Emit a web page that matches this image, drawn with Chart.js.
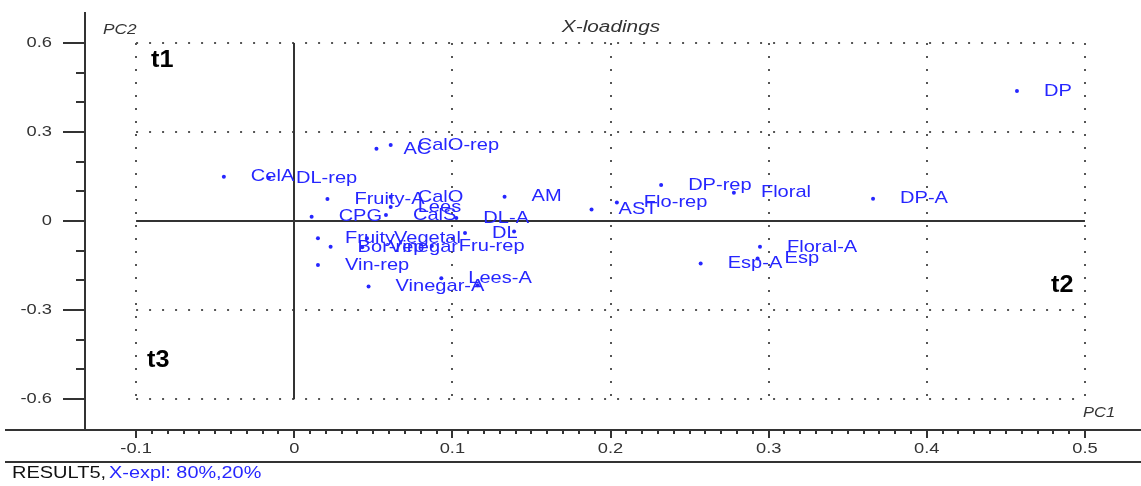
<!DOCTYPE html>
<html>
<head>
<meta charset="utf-8">
<script src="https://cdn.jsdelivr.net/npm/chart.js@4.4.1/dist/chart.umd.min.js"></script>
<style>
  html, body { margin: 0; padding: 0; background: #fff; overflow: hidden; }
  #wrap { width: 1141px; height: 486px; position: relative; }
</style>
</head>
<body>
<div id="wrap"><canvas id="loadings"></canvas></div>
<script>
// Variable names and their PC1 / PC2 loadings
const varNames = ['DP', 'DP-A', 'Floral', 'DP-rep', 'Flo-rep', 'AST', 'Floral-A', 'Esp', 'Esp-A',
  'AM', 'DL-A', 'DL', '', 'Fru-rep', 'Lees-A', '', 'Vinegar-A', 'Vin-rep', 'Bor-rep', 'Vinegar',
  'Vegetal', 'Fruity', 'CPG', 'CalS', 'Lees', 'CalO', 'Fruity-A', 'CelA', 'DL-rep', 'AC', 'CalO-rep'];
const pc1 = [0.457, 0.366, 0.278, 0.232, 0.204, 0.188, 0.2945, 0.293, 0.257,
  0.133, 0.1025, 0.108, 0.139, 0.087, 0.093, 0.116, 0.047, 0.015, 0.023, 0.043,
  0.046, 0.015, 0.011, 0.058, 0.061, 0.061, 0.021, -0.0445, -0.016, 0.052, 0.061];
const pc2 = [0.438, 0.075, 0.095, 0.121, 0.062, 0.039, -0.087, -0.126, -0.143,
  0.082, 0.010, -0.040, -0.035, -0.084, -0.193, -0.216, -0.221, -0.148, -0.087, -0.088,
  -0.058, -0.058, 0.0145, 0.020, 0.047, 0.081, 0.074, 0.149, 0.145, 0.243, 0.256];

// Axis ticks
const xTicks = [-0.1, 0, 0.1, 0.2, 0.3, 0.4, 0.5];
const yTicks = [-0.6, -0.3, 0, 0.3, 0.6];
const xGrid = [-0.1, 0.1, 0.2, 0.3, 0.4, 0.5];
const yGrid = [-0.6, -0.3, 0.3, 0.6];

const BLUE = '#2626ff';
const INK = '#333';
const SANS = '"Liberation Sans", Arial, sans-serif';

// the old Unscrambler-style font is noticeably wider than Arial
function wideText(ctx, str, x, y, font, color, align, stretch) {
  ctx.save();
  ctx.font = font;
  ctx.fillStyle = color;
  ctx.textBaseline = 'middle';
  ctx.textAlign = 'left';
  const w = ctx.measureText(str).width * stretch;
  let x0 = x;
  if (align === 'right') x0 = x - w;
  else if (align === 'center') x0 = x - w / 2;
  ctx.translate(x0, y);
  ctx.scale(stretch, 1);
  ctx.fillText(str, 0, 0);
  ctx.restore();
  return w;
}

function fmt(v) {
  return String(Math.round(v * 10) / 10);
}

const framePlugin = {
  id: 'loadingsFrame',
  beforeDatasetsDraw(chart) {
    const ctx = chart.ctx;
    const xs = chart.scales.x, ys = chart.scales.y;
    const yTop = ys.getPixelForValue(0.6), yBot = ys.getPixelForValue(-0.6);
    const xL = xs.getPixelForValue(-0.1), xR = xs.getPixelForValue(0.5);

    // dotted grid
    ctx.save();
    ctx.strokeStyle = '#555';
    ctx.lineWidth = 2;
    ctx.setLineDash([2, 11]);
    xGrid.forEach(v => {
      const px = Math.round(xs.getPixelForValue(v));
      ctx.beginPath(); ctx.moveTo(px, yTop); ctx.lineTo(px, yBot); ctx.stroke();
    });
    yGrid.forEach(v => {
      const py = Math.round(ys.getPixelForValue(v));
      ctx.beginPath(); ctx.moveTo(xL, py); ctx.lineTo(xR, py); ctx.stroke();
    });
    ctx.restore();

    // solid zero lines
    ctx.save();
    ctx.strokeStyle = '#333';
    ctx.lineWidth = 2;
    const x0 = Math.round(xs.getPixelForValue(0));
    const y0 = Math.round(ys.getPixelForValue(0));
    ctx.beginPath(); ctx.moveTo(x0, yTop); ctx.lineTo(x0, yBot); ctx.stroke();
    ctx.beginPath(); ctx.moveTo(xL, y0); ctx.lineTo(xR, y0); ctx.stroke();
    ctx.restore();
  },
  afterDatasetsDraw(chart) {
    const ctx = chart.ctx;
    const pts = chart.getDatasetMeta(0).data;
    pts.forEach((p, i) => {
      if (!varNames[i]) return;
      wideText(ctx, varNames[i], p.x + 27, p.y, '17px ' + SANS, BLUE, 'left', 1.18);
    });
  },
  afterDraw(chart) {
    const ctx = chart.ctx;
    const xs = chart.scales.x, ys = chart.scales.y;
    const area = chart.chartArea;
    const W = chart.width;

    ctx.save();
    ctx.strokeStyle = INK;
    ctx.lineWidth = 2;
    // axis lines
    ctx.beginPath(); ctx.moveTo(area.left, area.top); ctx.lineTo(area.left, area.bottom); ctx.stroke();
    ctx.beginPath(); ctx.moveTo(5, area.bottom); ctx.lineTo(W, area.bottom); ctx.stroke();
    ctx.beginPath(); ctx.moveTo(5, 462); ctx.lineTo(W, 462); ctx.stroke();

    // y ticks: major every 0.3, minor every 0.1
    for (let k = -6; k <= 6; k++) {
      const py = Math.round(ys.getPixelForValue(k / 10));
      const len = (k % 3 === 0) ? 22 : 9;
      ctx.beginPath(); ctx.moveTo(area.left - len, py); ctx.lineTo(area.left, py); ctx.stroke();
    }
    // x ticks: major every 0.1, minor every 0.01
    for (let k = -10; k <= 50; k++) {
      const px = Math.round(xs.getPixelForValue(k / 100));
      const len = (k % 10 === 0) ? 8 : 4;
      ctx.beginPath(); ctx.moveTo(px, area.bottom); ctx.lineTo(px, area.bottom + len); ctx.stroke();
    }
    ctx.restore();

    yTicks.forEach(v => {
      wideText(ctx, fmt(v), area.left - 33, ys.getPixelForValue(v), '15px ' + SANS, INK, 'right', 1.22);
    });
    xTicks.forEach(v => {
      wideText(ctx, fmt(v), xs.getPixelForValue(v), area.bottom + 19, '15px ' + SANS, INK, 'center', 1.22);
    });

    // title and axis names
    wideText(ctx, 'X-loadings', 611, 28, 'italic 16px ' + SANS, INK, 'center', 1.3);
    wideText(ctx, 'PC2', 103, 30, 'italic 15px ' + SANS, INK, 'left', 1.15);
    wideText(ctx, 'PC1', 1083, 413, 'italic 15px ' + SANS, INK, 'left', 1.1);

    // quadrant tags
    wideText(ctx, 't1', 151, 60, 'bold 24px ' + SANS, '#000', 'left', 1.05);
    wideText(ctx, 't2', 1051, 285, 'bold 24px ' + SANS, '#000', 'left', 1.05);
    wideText(ctx, 't3', 147, 360, 'bold 24px ' + SANS, '#000', 'left', 1.05);

    // footer
    const w = wideText(ctx, 'RESULT5,', 12, 474, '16px ' + SANS, '#111', 'left', 1.25);
    wideText(ctx, 'X-expl: 80%,20%', 12 + w + 3, 474, '16px ' + SANS, BLUE, 'left', 1.24);
  }
};

new Chart(document.getElementById('loadings'), {
  type: 'scatter',
  data: {
    datasets: [{
      data: pc1.map((v, i) => ({ x: v, y: pc2[i] })),
      backgroundColor: BLUE,
      borderColor: BLUE,
      pointRadius: 2,
      borderWidth: 0
    }]
  },
  options: {
    responsive: true,
    maintainAspectRatio: false,
    animation: false,
    layout: { padding: { top: 12, right: 0, bottom: 0, left: 0 } },
    plugins: { legend: { display: false }, tooltip: { enabled: false } },
    scales: {
      x: {
        type: 'linear', min: -0.1323, max: 0.5329,
        grid: { display: false }, border: { display: false }, ticks: { display: false },
        afterFit: s => { s.height = 56; }
      },
      y: {
        type: 'linear', min: -0.704, max: 0.704,
        grid: { display: false }, border: { display: false }, ticks: { display: false },
        afterFit: s => { s.width = 85; }
      }
    }
  },
  plugins: [framePlugin]
});
</script>
</body>
</html>
